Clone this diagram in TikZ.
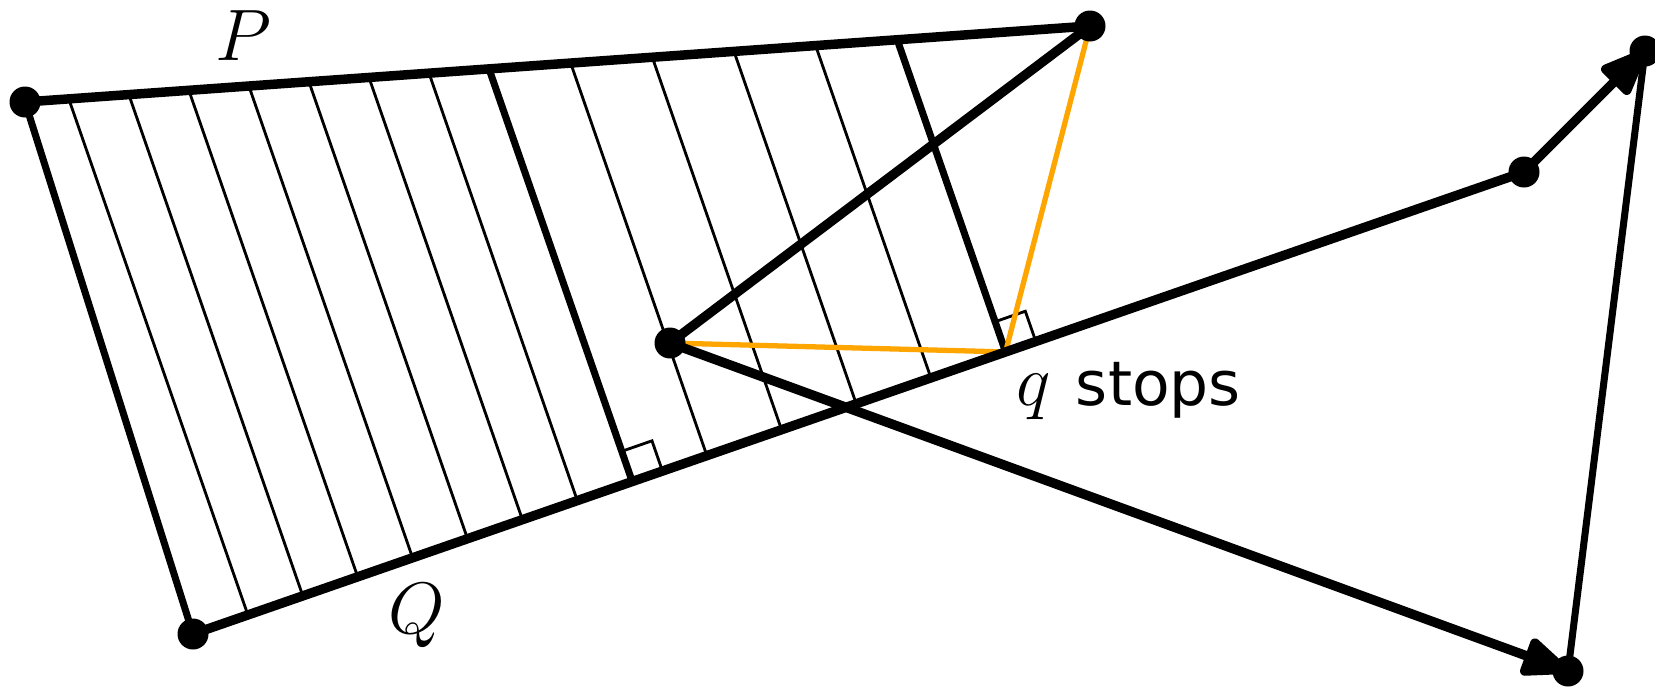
\documentclass[tikz,border=0pt]{standalone}
\usepackage{fontspec}
\newfontfamily\dejavu{DejaVu Sans}
\usetikzlibrary{calc,arrows.meta}
\definecolor{orng}{RGB}{255,165,0}
\begin{document}
\begin{tikzpicture}[x=0.1mm,y=-0.1mm,
  thickline/.style={line width=2.7pt,line cap=round,line join=round},
  boldline/.style={line width=2pt},
  hatch/.style={line width=0.8pt},
  orangeline/.style={draw=orng,line width=1.5pt},
  arrowline/.style={thickline,-{Triangle[length=5.4mm,width=4.1mm,round]}},
  dot/.style={circle,fill=black,inner sep=0pt,minimum size=3.1mm},
  lbl/.style={inner sep=0pt,anchor=base,font=\huge}]
\useasboundingbox (0,0) rectangle (1655,686);
\coordinate (P0) at (25,102);
\coordinate (P1) at (1090,26);
\coordinate (Q0) at (193,634);
\coordinate (Q1) at (1524,172);
\coordinate (C) at (670,343);
\coordinate (B) at (1568,671);
\coordinate (T) at (1645,51);
% thin hatch lines, perpendicular to Q
\foreach \s in {0.04125,0.0825,0.12375,0.165,0.20625,0.2475,0.28875,0.3861,0.4422,0.4983,0.5544}{
  \coordinate (hh) at ($(Q0)!\s!(Q1)$);
  \coordinate (gg) at ($(hh)!1!90:(Q1)$);
  \draw[hatch] (hh) -- (intersection of hh--gg and P0--P1);
}
% bold hatch lines
\coordinate (F1) at ($(Q0)!0.33!(Q1)$);
\coordinate (G1) at ($(F1)!1!90:(Q1)$);
\coordinate (E1) at (intersection of F1--G1 and P0--P1);
\coordinate (F2) at ($(Q0)!0.6105!(Q1)$);
\coordinate (G2) at ($(F2)!1!90:(Q1)$);
\coordinate (E2) at (intersection of F2--G2 and P0--P1);
\draw[boldline] (F1) -- (E1);
\draw[boldline] (F2) -- (E2);
% right angle marks
\coordinate (F1a) at ($(F1)!3.2mm!(Q1)$);
\coordinate (F1b) at ($(F1)!3.2mm!90:(Q1)$);
\coordinate (F1c) at ($(F1a)!3.2mm!90:(Q1)$);
\draw[hatch] (F1a) -- (F1c) -- (F1b);
\coordinate (F2a) at ($(F2)!3.2mm!(Q1)$);
\coordinate (F2b) at ($(F2)!3.2mm!90:(Q1)$);
\coordinate (F2c) at ($(F2a)!3.2mm!90:(Q1)$);
\draw[hatch] (F2a) -- (F2c) -- (F2b);
% orange
\draw[orangeline] (C) -- (F2) -- (P1);
% main segments
\draw[thickline] (P0) -- (P1);
\draw[thickline] (Q0) -- (Q1);
\draw[boldline] (P0) -- (Q0);
\draw[thickline] (C) -- (P1);
\draw[arrowline] (C) -- (B);
\draw[arrowline] (Q1) -- (T);
\draw[boldline] (B) -- (T);
% dots
\foreach \p in {P0,P1,Q0,Q1,C,B,T}{
  \node[dot] (d\p) at (\p) {};
}
% labels
\node[lbl] (lP) at (243,60) {$P$};
\node[lbl] (lQ) at (417,633) {$Q$};
\node[lbl,anchor=base west] (lq) at (1016,405) {$q$\hspace{2.5mm}{\dejavu\fontsize{17.5}{20}\selectfont stops}};
\end{tikzpicture}
\end{document}
